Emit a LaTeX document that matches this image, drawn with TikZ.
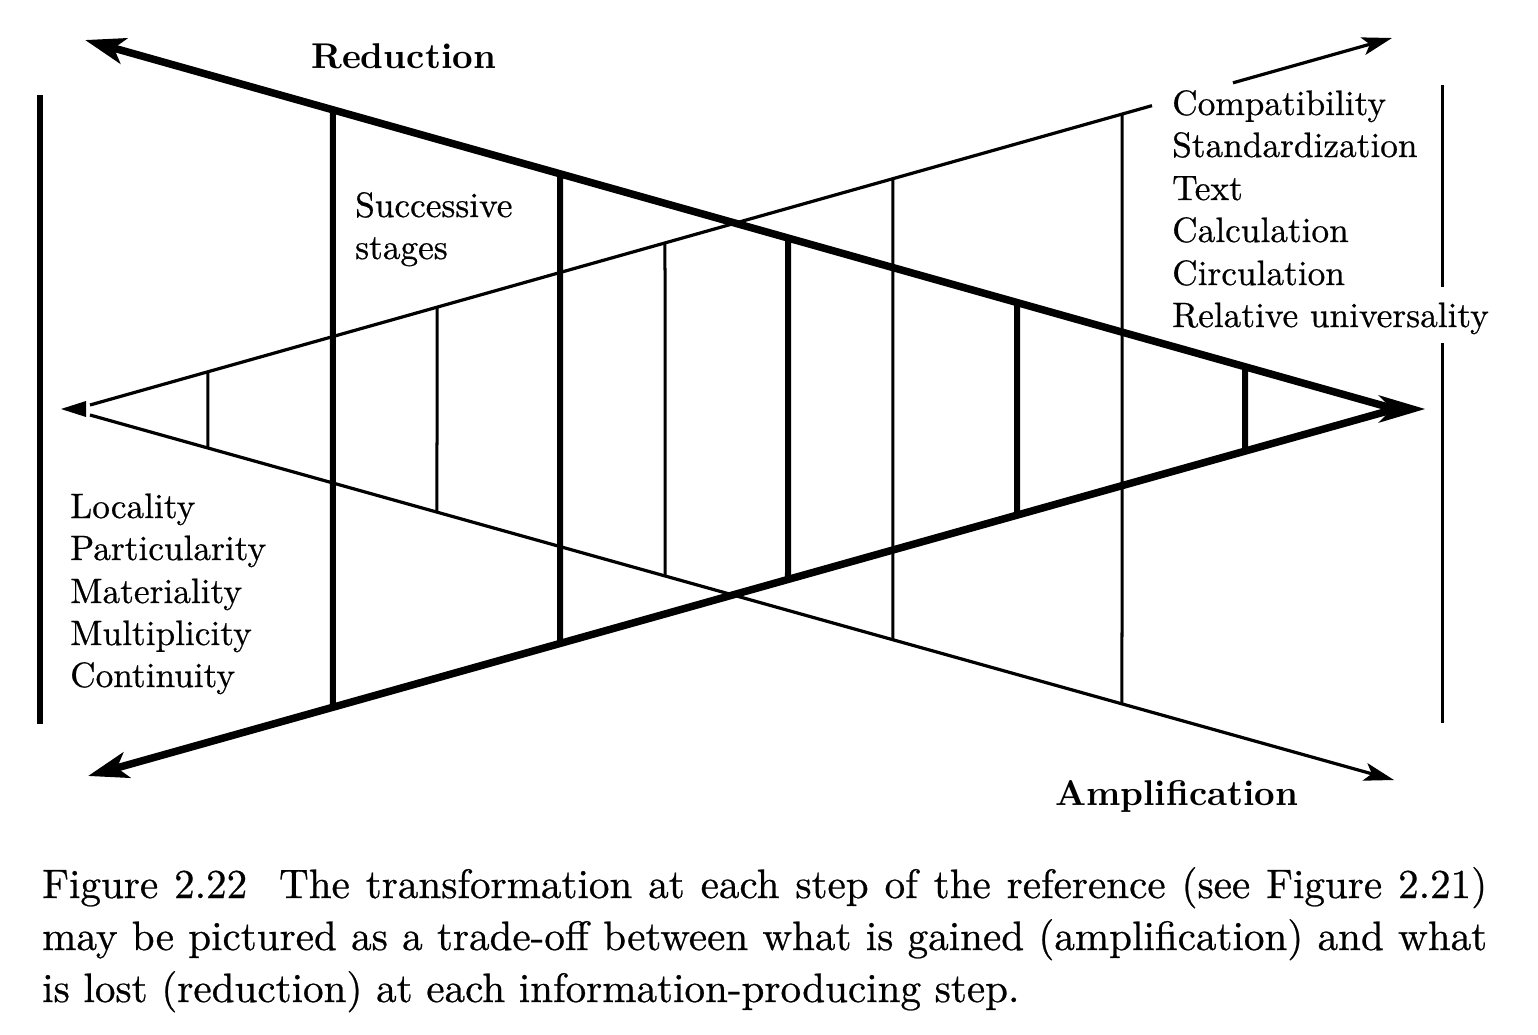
\documentclass[tikz,border=0pt]{standalone}
\usepackage{fontspec}
\setmainfont{lmroman10-regular.otf}[BoldFont=lmroman10-bold.otf]
\newfontfamily\heavyrm{lmroman10-regular.otf}[FakeBold=0.6]
\usetikzlibrary{arrows.meta,calc}
\begin{document}
\begin{tikzpicture}[x=1pt,y=-1pt,
  thickln/.style={line width=7.5pt},
  thinln/.style={line width=3.2pt},
  thickvert/.style={line width=6pt},
  thinvert/.style={line width=3pt},
  bigtip/.style={-{Stealth[length=40pt,width=26pt,inset=10pt]}},
  smalltip/.style={-{Stealth[length=30pt,width=18pt,inset=7pt]}},
  lbl/.style={inner sep=0pt, anchor=base west, font=\heavyrm\fontsize{35.3}{42}\selectfont},
  headlbl/.style={inner sep=0pt, anchor=base west, font=\fontsize{35.8}{42}\selectfont\bfseries},
  caplbl/.style={inner sep=0pt, anchor=base west, font=\heavyrm\fontsize{41.1}{52}\selectfont}]
\useasboundingbox (0,0) rectangle (1538,1034);
\fill[white] (0,0) rectangle (1538,1034);

% key points
\coordinate (TL) at (85,40);
\coordinate (J)  at (1395,409);
\coordinate (BL) at (88,776);
\coordinate (U0) at (90,405);
\coordinate (D0) at (90,415);
\coordinate (TR) at (1392,38);
\coordinate (BR) at (1394,780);

% frame verticals
\draw[line width=6pt] (40,95) coordinate (lvtop) -- (40,724) coordinate (lvbot);
\draw[line width=3pt] (1442,85) coordinate (rvtop) -- (1442,287) coordinate (rvmid);
\draw[line width=3pt] (1442,343) coordinate (rvmid2) -- (1442,723) coordinate (rvbot);

% thick lines (reduction / convergence to the right)
\draw[thickln,bigtip] (J) -- (TL);
\draw[thickln,bigtip] (J) -- (BL);
\fill (1425,409) -- (1378,395) -- (1392,409) -- (1378,423) -- cycle;

% thin lines (amplification / divergence from the left)
\draw[thinln] (U0) -- ($(U0)!{(1152-90)/1302}!(TR)$) coordinate (gapA);
\draw[thinln,smalltip] ($(U0)!{(1233-90)/1302}!(TR)$) coordinate (gapB) -- (TR);
\draw[thinln,smalltip] (D0) -- (BR);
\fill (61,409) -- (86,401) -- (86,417) -- cycle;

% thick verticals
\foreach \x in {333,560,788,1017,1245}
  \draw[thickvert] ($(TL)!{(\x-85)/1310}!(J)$) -- ($(BL)!{(\x-88)/1307}!(J)$);
% thin verticals
\foreach \x in {208,437,665,893,1122}
  \draw[thinvert] ($(U0)!{(\x-90)/1302}!(TR)$) -- ($(D0)!{(\x-90)/1304}!(BR)$);

% labels
\node[headlbl] (red) at (311,68) {Reduction};
\node[headlbl] (amp) at (1055,805) {Amplification};

\node[lbl] (succ1) at (355,217) {Successive};
\node[lbl] (succ2) at (355,259) {stages};

\node[lbl] (r1) at (1172,115) {Compatibility};
\node[lbl] (r2) at (1172,157) {Standardization};
\node[lbl] (r3) at (1172,200) {Text};
\node[lbl] (r4) at (1172,242) {Calculation};
\node[lbl] (r5) at (1172,285) {Circulation};
\node[lbl] (r6) at (1172,327) {Relative universality};

\node[lbl] (l1) at (70,518) {Locality};
\node[lbl] (l2) at (70,560) {Particularity};
\node[lbl] (l3) at (70,603) {Materiality};
\node[lbl] (l4) at (70,645) {Multiplicity};
\node[lbl] (l5) at (70,687) {Continuity};

% caption
\node[caplbl] (c1) at (42,898) {\makebox[1445pt][s]{Figure 2.22\ \ The transformation at each step of the reference (see Figure 2.21)}};
\node[caplbl] (c2) at (42,950) {\makebox[1445pt][s]{may be pictured as a trade-off between what is gained (amplification) and what}};
\node[caplbl] (c3) at (42,1002) {is lost (reduction) at each information-producing step.};
\end{tikzpicture}
\end{document}
